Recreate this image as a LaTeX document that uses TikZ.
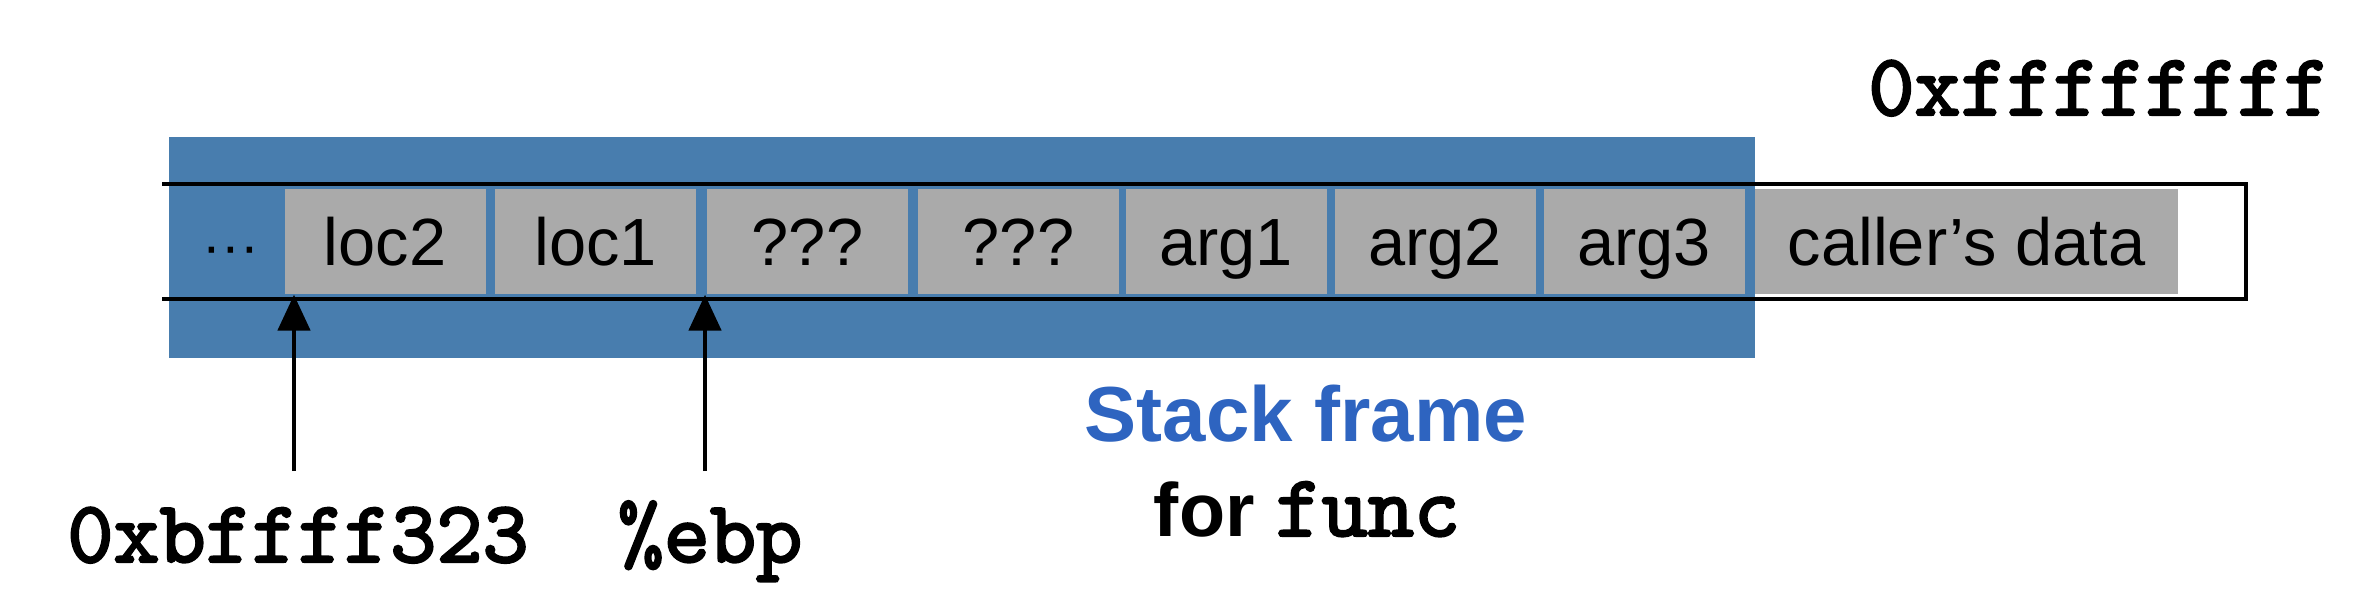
\documentclass[tikz,border=0pt]{standalone}
\usepackage{fontspec}
\setmainfont{Liberation Sans}
\newfontfamily\monofont{lmmono10-regular.otf}[FakeBold=2.6]
\usepackage{xcolor}
\usetikzlibrary{arrows.meta}

\definecolor{framebg}{RGB}{72,125,174}
\definecolor{cellgray}{RGB}{170,170,170}
\definecolor{titleblue}{RGB}{46,100,192}

\begin{document}
\begin{tikzpicture}[
    cell/.style={fill=cellgray, minimum width=2.01cm, minimum height=1.05cm, inner sep=0pt,
        text height=0.48cm, text depth=0cm, font=\fontsize{19}{22}\selectfont},
    addr/.style={anchor=base, inner sep=0pt, font=\fontsize{25}{28}\monofont},
    ptr/.style={-{Triangle[length=0.36cm, width=0.32cm]}, line width=1.4pt}
]
    \useasboundingbox (0,0) rectangle (23.68,6);

    % Stack frame background
    \node[fill=framebg, minimum width=15.86cm, minimum height=2.21cm, inner sep=0pt] (frame) at (9.62,3.525) {};

    % Stack cells
    \node[inner sep=0pt, text height=0.48cm, text depth=0cm, font=\fontsize{16}{20}\selectfont] (dots) at (2.31,3.585) {···};
    \node[cell] (loc2) at (3.85,3.585) {loc2};
    \node[cell] (loc1) at (5.955,3.585) {loc1};
    \node[cell] (unk1) at (8.075,3.585) {???};
    \node[cell] (unk2) at (10.185,3.585) {???};
    \node[cell] (arg1) at (12.26,3.585) {arg1};
    \node[cell] (arg2) at (14.35,3.585) {arg2};
    \node[cell] (arg3) at (16.44,3.585) {arg3};
    \node[cell, minimum width=4.23cm] (caller) at (19.665,3.585) {caller’s data};

    % Stack outline
    \draw[line width=1pt] (1.62,4.16) -| (22.46,3.01) -- (1.62,3.01);

    % Addresses
    \node[addr] (top) at (20.99,4.85) {0xffffffff};
    \node[addr] (esp) at (2.98,0.38) {0xbffff323};
    \node[addr] (ebp) at (7.10,0.38) {\%ebp};

    % Caption
    \node[anchor=base, inner sep=0pt, text=titleblue, font=\fontsize{22.2}{26}\selectfont\bfseries] (title) at (13.06,1.59) {Stack frame};
    \node[anchor=base, inner sep=0pt, font=\fontsize{21.5}{26}\selectfont\bfseries] (sub) at (13.07,0.64) {for {\monofont\fontsize{25}{28}\selectfont func}};

    % Pointers
    \coordinate (espTail) at (2.94,1.29);
    \coordinate (ebpTail) at (7.05,1.29);
    \draw[ptr] (espTail) -- (espTail |- loc2.south);
    \draw[ptr] (ebpTail) -- (ebpTail |- unk1.south);
\end{tikzpicture}
\end{document}
